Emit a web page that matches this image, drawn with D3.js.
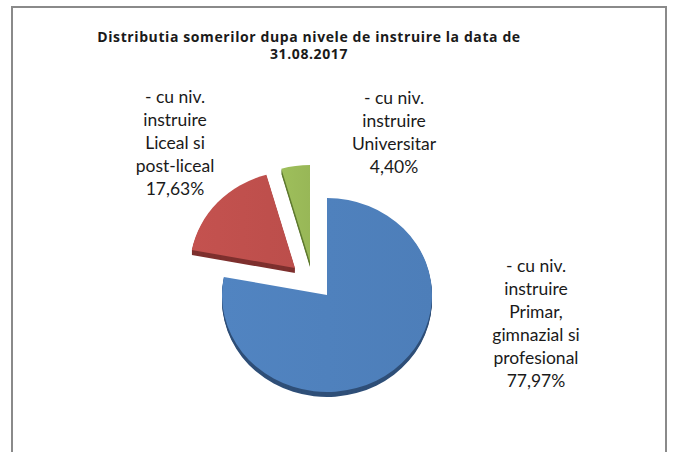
<!DOCTYPE html>
<html>
<head>
<meta charset="utf-8">
<script src="https://cdn.jsdelivr.net/npm/d3@7"></script>
<style>
  body { margin: 0; background: #fff; }
  text { font-family: Lato, "Open Sans", sans-serif; fill: #1a1a1a; }
</style>
</head>
<body>
<script>
var svgWidth = 675;
var svgHeight = 452;

// data
var categories = [
    ["- cu niv.", "instruire", "Primar,", "gimnazial si", "profesional"],
    ["- cu niv.", "instruire", "Liceal si", "post-liceal"],
    ["- cu niv.", "instruire", "Universitar"]
];
var values = [77.97, 17.63, 4.40];
var valueLabels = ["77,97%", "17,63%", "4,40%"];
var titleLines = ["Distributia somerilor dupa nivele de instruire la data de", "31.08.2017"];

// looks
var topColors = ["#4F81BD", "#C0504D", "#9BBB59"];
var sideColors = ["#2f4f78", "#7e302e", "#5f7a30"];
var explode = [[0, 0], [-32, -27], [-17, -33]];   // slice offsets, px
var labelPos = [[536, 266], [175, 97], [394, 98]]; // label first-line centres
var lineH = 23;

var cx = 327, cy = 295, rx = 105, ry = 97, depth = 5;

var svg = d3.select("body").append("svg")
    .attr("width", svgWidth)
    .attr("height", svgHeight);

// chart frame
svg.append("rect")
    .attr("x", 12).attr("y", 7)
    .attr("width", 654).attr("height", 470)
    .attr("fill", "none")
    .attr("stroke", "#8a8a8a")
    .attr("stroke-width", 2);

// title
svg.append("text")
    .attr("x", 309).attr("y", 42)
    .attr("text-anchor", "middle")
    .style("font-family", "'Open Sans', sans-serif")
    .style("font-size", "14px")
    .style("letter-spacing", "0.6px")
    .style("font-weight", "bold")
    .selectAll("tspan")
    .data(titleLines)
    .enter().append("tspan")
    .attr("x", 309)
    .attr("dy", (d, i) => i ? 17 : 0)
    .text(d => d);

// gradients for top faces
var defs = svg.append("defs");
topColors.forEach((c, i) => {
    var g = defs.append("linearGradient").attr("id", "grad" + i)
        .attr("x1", "0%").attr("y1", "0%").attr("x2", "100%").attr("y2", "0%");
    g.append("stop").attr("offset", "0%").attr("stop-color", d3.color(c).brighter(0.06));
    g.append("stop").attr("offset", "100%").attr("stop-color", d3.color(c).darker(0.06));
});

var pie = d3.pie().sort(null).value(d => d);
var arcs = pie(values);
var arc = d3.arc().innerRadius(0).outerRadius(rx);
var k = ry / rx;

var chartGroup = svg.append("g");

arcs.forEach((d, i) => {
    var g = chartGroup.append("g")
        .attr("transform", `translate(${cx + explode[i][0]}, ${cy + explode[i][1]})`);
    // extruded side
    for (var s = depth; s >= 1; s--) {
        g.append("path")
            .attr("d", arc(d))
            .attr("transform", `translate(0, ${s}) scale(1, ${k})`)
            .attr("fill", sideColors[i]);
    }
    // top face
    g.append("path")
        .attr("d", arc(d))
        .attr("transform", `scale(1, ${k})`)
        .attr("fill", `url(#grad${i})`);
});

// labels
arcs.forEach((d, i) => {
    var lines = categories[i].concat([valueLabels[i]]);
    svg.append("text")
        .attr("text-anchor", "middle")
        .style("font-size", "17.5px")
        .selectAll("tspan")
        .data(lines)
        .enter().append("tspan")
        .attr("x", labelPos[i][0])
        .attr("y", (t, j) => labelPos[i][1] + 6 + j * lineH)
        .text(t => t);
});
</script>
</body>
</html>
